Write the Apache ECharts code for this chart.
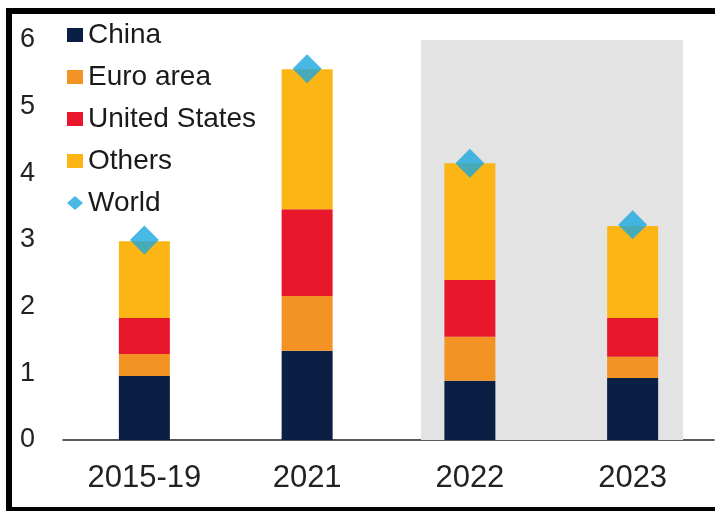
<!DOCTYPE html>
<html>
<head>
<meta charset="utf-8">
<script src="https://cdn.jsdelivr.net/npm/echarts@6/dist/echarts.min.js"></script>
<style>
  html, body { margin: 0; padding: 0; background: #fff; }
  #wrap { position: relative; width: 715px; height: 511px; overflow: hidden; }
  #main { position: absolute; left: 0; top: 0; width: 715px; height: 511px; }
  #frame {
    position: absolute; left: 6px; top: 8px; width: 709px; height: 503px;
    border-left: 6px solid #000; border-top: 6px solid #000; border-bottom: 4px solid #000;
    box-sizing: border-box; pointer-events: none;
  }
</style>
</head>
<body>
<div id="wrap">
  <div id="main"></div>
  <div id="frame"></div>
</div>
<script>
// categories and values
var categories = ['2015-19', '2021', '2022', '2023']
var china = [0.96, 1.34, 0.89, 0.93]
var euroArea = [0.33, 0.82, 0.66, 0.32]
var unitedStates = [0.54, 1.30, 0.85, 0.58]
var others = [1.15, 2.10, 1.75, 1.38]
var world = [3.0, 5.57, 4.15, 3.23]
var yTicks = [0, 6, 1] // min, max, interval
// shaded (forecast) region, in category units along the x axis
var shadeFrom = 2.2
var shadeTo = 3.81

var chart = echarts.init(document.getElementById('main'))

function barSeries (name, data, color) {
  return {
    name: name,
    type: 'bar',
    stack: 'total',
    data: data,
    barWidth: 51,
    itemStyle: { color: color },
    z: 2
  }
}

var option = {
  animation: false,
  textStyle: { fontFamily: 'Liberation Sans, Arial, sans-serif' },
  grid: {
    left: 63,
    right: 1,
    top: 40,
    bottom: 71,
    containLabel: false,
    outerBoundsMode: 'none'
  },
  legend: {
    orient: 'vertical',
    left: 62,
    top: 15,
    itemWidth: 16,
    itemHeight: 14,
    itemGap: 12,
    textStyle: { fontSize: 28, color: '#1a1a1a', lineHeight: 30 },
    data: [
      { name: 'China', icon: 'rect' },
      { name: 'Euro area', icon: 'rect' },
      { name: 'United States', icon: 'rect' },
      { name: 'Others', icon: 'rect' },
      { name: 'World', icon: 'diamond' }
    ]
  },
  xAxis: [
    {
      type: 'category',
      data: categories,
      axisTick: { show: false },
      axisLine: { lineStyle: { color: '#222', width: 1.5 } },
      axisLabel: { fontSize: 31, color: '#222', margin: 23, lineHeight: 31 }
    },
    {
      type: 'value',
      min: 0,
      max: categories.length,
      show: false
    }
  ],
  yAxis: {
    type: 'value',
    min: yTicks[0],
    max: yTicks[1],
    interval: yTicks[2],
    axisLine: { show: false },
    axisTick: { show: false },
    splitLine: { show: false },
    axisLabel: { fontSize: 27, color: '#222', margin: 28 }
  },
  series: [
    {
      name: 'shade',
      type: 'line',
      xAxisIndex: 1,
      data: [],
      silent: true,
      z: 1,
      markArea: {
        silent: true,
        itemStyle: { color: '#e3e3e3' },
        data: [[
          { xAxis: shadeFrom, yAxis: yTicks[0] },
          { xAxis: shadeTo, yAxis: yTicks[1] }
        ]]
      }
    },
    barSeries('China', china, '#0b1f45'),
    barSeries('Euro area', euroArea, '#f39324'),
    barSeries('United States', unitedStates, '#e8172b'),
    barSeries('Others', others, '#fbb615'),
    {
      name: 'World',
      type: 'scatter',
      symbol: 'diamond',
      symbolSize: 29,
      data: world,
      itemStyle: { color: '#1aa7de' },
      z: 3
    }
  ]
}

chart.setOption(option)
</script>
</body>
</html>
